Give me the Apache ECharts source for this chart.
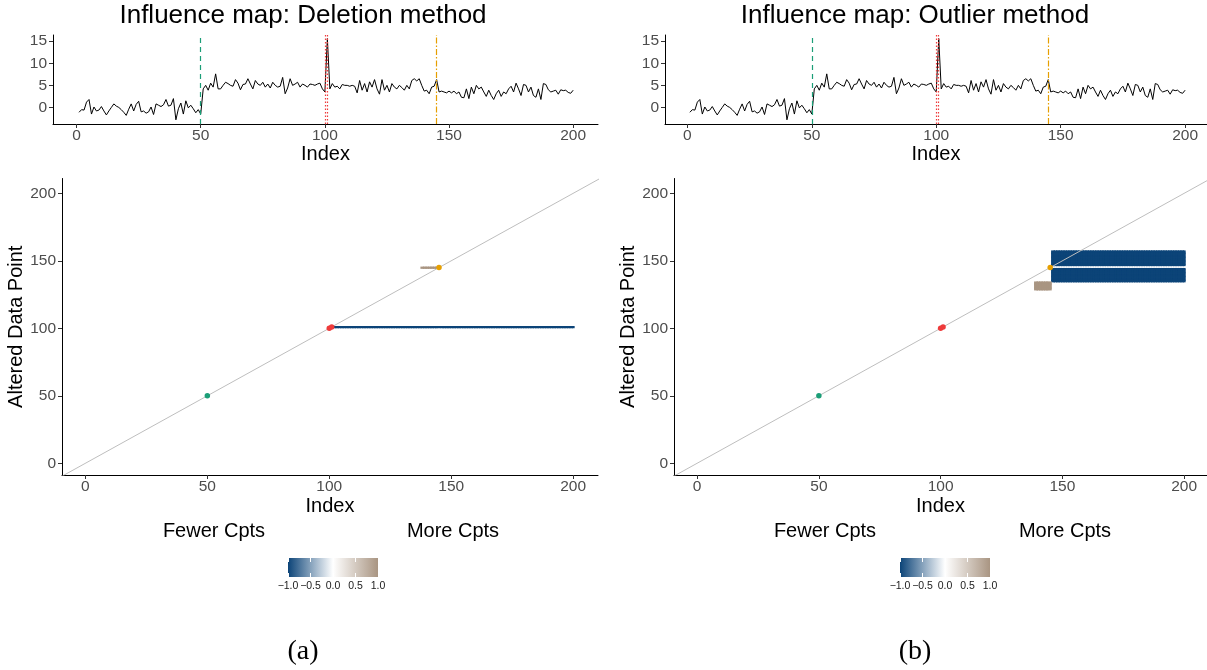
<!DOCTYPE html>
<html><head><meta charset="utf-8">
<script src="https://cdn.jsdelivr.net/npm/echarts@6/dist/echarts.min.js"></script>
<style>html,body{margin:0;padding:0;background:#fff}#c{width:1207px;height:670px}</style>
</head><body><div id="c"></div>
<script>
// ---- data ----
const seriesValues = [
  -1.1, -0.5, -0.6, 1.2, 1.8, -1.5, 0.1, -0.8, -0.6, 0.2,
  -0.8, -1.7, -0.8, 0.0, 0.8, 0.3, 0.0, -0.5, -1.1, -1.8,
  -0.4, 0.8, -0.8, 0.7, 1.4, -1.0, -0.8, -1.3, -1.0, 0.1,
  -1.6, 0.8, 0.5, 0.2, 0.6, 1.8, 0.3, 0.5, 2.0, -2.8,
  -0.3, 1.0, -1.5, 1.5, -0.1, 0.5, -0.3, -1.2, -0.5, -1.5,
  4.2, 5.0, 3.9, 5.5, 4.6, 7.6, 4.2, 4.2, 5.0, 5.7,
  5.4, 5.0, 4.8, 6.3, 5.5, 4.0, 5.2, 5.3, 6.5, 5.3,
  4.2, 6.1, 5.3, 5.0, 5.7, 4.6, 5.3, 4.4, 5.7, 5.0,
  4.6, 4.8, 6.8, 3.1, 4.4, 6.5, 5.0, 5.3, 5.7, 4.6,
  5.3, 5.0, 4.6, 5.3, 5.2, 5.0, 5.3, 5.5, 4.2, 3.5,
  15.6, 4.2, 5.4, 4.6, 4.8, 4.2, 5.2, 5.0, 5.0, 4.8,
  5.0, 4.8, 3.3, 6.1, 3.9, 5.4, 3.5, 5.8, 4.6, 6.3,
  4.2, 3.0, 6.3, 3.9, 5.0, 3.5, 5.4, 4.6, 4.2, 5.0,
  4.5, 3.9, 5.0, 4.2, 6.1, 6.5, 6.0, 6.5, 5.0, 3.7,
  3.9, 3.1, 4.6, 4.8, 6.3, 3.5, 3.7, 3.5, 3.3, 3.7,
  3.3, 3.7, 3.1, 3.5, 2.3, 2.2, 4.2, 2.0, 4.6, 3.1,
  5.0, 4.2, 4.6, 3.5, 2.5, 3.9, 2.7, 1.8, 3.1, 3.9,
  2.5, 3.5, 3.1, 4.2, 4.8, 3.5, 5.5, 4.2, 2.7, 5.2,
  5.0, 3.5, 4.6, 2.7, 2.3, 4.2, 1.8, 5.4, 5.2, 4.0,
  3.5, 3.7, 3.9, 3.0, 4.0, 3.8, 3.9, 3.4, 3.2, 3.9
];
const changeGreen = [50];
const changeRed = [100, 101];
const changeOrange = [145];
const xTicks = [0, 50, 100, 150, 200];
const yTicksTop = [0, 5, 10, 15];
const yTicksBottom = [0, 50, 100, 150, 200];
const legendTicks = [-1, -0.5, 0, 0.5, 1];
const pointsGreen = [[50, 50]];
const pointsRed = [[100, 100], [101, 101]];
const pointsOrange = [[145, 145]];
// blocks of cells: [xFrom, xTo, yFrom, yTo, value]
const deletionBlocks = [[101, 200, 101, 101, -1], [138, 144, 145, 145, 1]];
const outlierBlocks = [[146, 200, 147, 157, -1], [146, 200, 135, 144, -1], [139, 145, 129, 134, 1]];
const diagonal = [[-30, -30], [240, 240]];
const colorbarRange = [[-1, 1]];

// ---- styling ----
const FONT = 'Liberation Sans, Arial, Helvetica, sans-serif';
const BLUE = '#0c4478', BROWN = '#a99582';
const GREEN = '#1b9e77', RED = '#ee3b3b', ORANGE = '#E69F00';
const TICK_FS = 15.5;

function expand(blocks) {
  const out = [];
  blocks.forEach(b => {
    for (let x = b[0]; x <= b[1]; x++) for (let y = b[2]; y <= b[3]; y++) out.push([x, y, b[4]]);
  });
  return out;
}
const lineData = seriesValues.map((v, i) => [i + 1, v]);

function xAxisPlot(gi, min, max, nameGap) {
  return {
    type: 'value', gridIndex: gi, min: min, max: max,
    name: 'Index', nameLocation: 'middle', nameGap: nameGap,
    nameTextStyle: { fontSize: 20, color: '#000', fontFamily: FONT },
    axisLine: { show: true, onZero: false, lineStyle: { color: '#000', width: 1 } },
    axisTick: { show: true, length: 4, customValues: xTicks, lineStyle: { color: '#333', width: 1 } },
    axisLabel: { customValues: xTicks, fontSize: TICK_FS, color: '#4d4d4d', fontFamily: FONT, margin: 4 },
    splitLine: { show: false }
  };
}
function yAxisPlot(gi, min, max, ticks, name) {
  const o = {
    type: 'value', gridIndex: gi, min: min, max: max,
    axisLine: { show: true, onZero: false, lineStyle: { color: '#000', width: 1 } },
    axisTick: { show: true, length: 4, customValues: ticks, lineStyle: { color: '#333', width: 1 } },
    axisLabel: { customValues: ticks, fontSize: TICK_FS, color: '#4d4d4d', fontFamily: FONT, margin: 6 },
    splitLine: { show: false }
  };
  if (name) {
    o.name = name; o.nameLocation = 'middle'; o.nameGap = 35;
    o.nameTextStyle = { fontSize: 20, color: '#000', fontFamily: FONT };
  }
  return o;
}
function cbX(gi, pos) {
  return {
    type: 'value', gridIndex: gi, min: -1, max: 1, position: pos, z: 10,
    axisLine: { show: false },
    axisTick: { show: true, inside: true, length: 4, customValues: legendTicks, lineStyle: { color: '#fff', width: 1 } },
    axisLabel: pos === 'bottom' ? {
      customValues: legendTicks, fontSize: 10.5, color: '#1a1a1a', fontFamily: FONT, margin: 4,
      formatter: v => (v < 0 ? '\u2212' : '') + Math.abs(v).toFixed(1)
    } : { show: false },
    splitLine: { show: false }
  };
}
function cbY(gi) { return { type: 'value', gridIndex: gi, min: 0, max: 1, show: false }; }

function vlines() {
  const d = [];
  changeGreen.forEach(v => d.push({ xAxis: v, lineStyle: { color: GREEN, type: [5, 4], width: 1.2 } }));
  changeRed.forEach(v => d.push({ xAxis: v, lineStyle: { color: RED, type: [1.5, 2], width: 1.2 } }));
  changeOrange.forEach(v => d.push({ xAxis: v, lineStyle: { color: ORANGE, type: [6, 2, 1.5, 2], width: 1.2 } }));
  return { symbol: ['none', 'none'], silent: true, label: { show: false }, data: d, animation: false };
}
function tileSeries(ai, blocks) {
  return {
    type: 'custom', xAxisIndex: ai, yAxisIndex: ai, z: 2, data: expand(blocks),
    encode: { x: 0, y: 1 },
    renderItem: function (params, api) {
      const x = api.value(0), y = api.value(1);
      const p0 = api.coord([x - 0.5, y + 0.5]);
      const p1 = api.coord([x + 0.5, y - 0.5]);
      const c = api.visual('color');
      const dx = (x < 200 && x !== 144 && x !== 145) ? 1.2 : 0.3;
      return { type: 'rect',
        shape: { x: p0[0] - 0.3, y: p0[1] - 0.3, width: p1[0] - p0[0] + 0.3 + dx, height: p1[1] - p0[1] + 0.9 },
        style: { fill: c } };
    }
  };
}
function diagSeries(ai) {
  return { type: 'line', xAxisIndex: ai, yAxisIndex: ai, data: diagonal, showSymbol: false, symbol: 'none',
    clip: true, z: 3, lineStyle: { color: '#bebebe', width: 1 } };
}
function pointSeries(ai, data, color) {
  return { type: 'scatter', xAxisIndex: ai, yAxisIndex: ai, data: data, symbolSize: 5.5, z: 4,
    itemStyle: { color: color, opacity: 1 } };
}
function colorbarSeries(ai) {
  return {
    type: 'custom', xAxisIndex: ai, yAxisIndex: ai, data: colorbarRange, z: 2,
    renderItem: function (params, api) {
      const p0 = api.coord([api.value(0), 1]);
      const p1 = api.coord([api.value(1), 0]);
      return { type: 'rect', shape: { x: p0[0], y: p0[1], width: p1[0] - p0[0], height: p1[1] - p0[1] },
        style: { fill: new echarts.graphic.LinearGradient(0, 0, 1, 0, [
          { offset: 0, color: BLUE }, { offset: 0.5, color: '#ffffff' }, { offset: 1, color: BROWN }]) } };
    }
  };
}
function txt(x, y, text, size, family) {
  return { type: 'text', x: x, y: y, silent: true,
    style: { text: text, fill: '#000', font: size + 'px ' + (family || FONT),
      align: 'center', verticalAlign: 'middle', textAlign: 'center', textVerticalAlign: 'middle' } };
}

const chart = echarts.init(document.getElementById('c'));
chart.setOption({
  animation: false,
  backgroundColor: '#fff',
  grid: [
    { left: 53, top: 35, width: 545, height: 89 },
    { left: 665, top: 35, width: 542, height: 89 },
    { left: 62, top: 178.5, width: 536, height: 296.5 },
    { left: 674, top: 178.5, width: 533, height: 296.5 },
    { left: 288, top: 558, width: 90, height: 19 },
    { left: 900, top: 558, width: 90, height: 19 }
  ],
  xAxis: [
    xAxisPlot(0, -9.5, 210, 20),
    xAxisPlot(1, -9, 208.8, 20),
    xAxisPlot(2, -9.6, 210.2, 21),
    xAxisPlot(3, -9.5, 209.4, 21),
    cbX(4, 'bottom'), cbX(5, 'bottom'), cbX(4, 'top'), cbX(5, 'top')
  ],
  yAxis: [
    yAxisPlot(0, -3.75, 16.4, yTicksTop),
    yAxisPlot(1, -3.75, 16.4, yTicksTop),
    yAxisPlot(2, -8.7, 211, yTicksBottom, 'Altered Data Point'),
    yAxisPlot(3, -8.7, 211, yTicksBottom, 'Altered Data Point'),
    cbY(4), cbY(5)
  ],
  visualMap: [{
    type: 'continuous', show: false, min: -1, max: 1, dimension: 2, seriesIndex: [2, 3],
    inRange: { color: [BLUE, '#ffffff', BROWN] }
  }],
  series: [
    { type: 'line', xAxisIndex: 0, yAxisIndex: 0, data: lineData, showSymbol: false, symbol: 'none',
      lineStyle: { color: '#000', width: 1 }, z: 3, markLine: vlines() },
    { type: 'line', xAxisIndex: 1, yAxisIndex: 1, data: lineData, showSymbol: false, symbol: 'none',
      lineStyle: { color: '#000', width: 1 }, z: 3, markLine: vlines() },
    tileSeries(2, deletionBlocks),
    tileSeries(3, outlierBlocks),
    diagSeries(2), diagSeries(3),
    pointSeries(2, pointsGreen, GREEN), pointSeries(2, pointsRed, RED), pointSeries(2, pointsOrange, ORANGE),
    pointSeries(3, pointsGreen, GREEN), pointSeries(3, pointsRed, RED), pointSeries(3, pointsOrange, ORANGE),
    colorbarSeries(4), colorbarSeries(5)
  ],
  graphic: [
    txt(303, 16, 'Influence map: Deletion method', 26),
    txt(915, 16, 'Influence map: Outlier method', 26),
    txt(214, 531, 'Fewer Cpts', 20),
    txt(453, 531, 'More Cpts', 20),
    txt(825, 531, 'Fewer Cpts', 20),
    txt(1065, 531, 'More Cpts', 20),
    txt(303, 652, '(a)', 28, 'Liberation Serif, DejaVu Serif, serif'),
    txt(915, 652, '(b)', 28, 'Liberation Serif, DejaVu Serif, serif')
  ]
});
</script>
</body></html>
